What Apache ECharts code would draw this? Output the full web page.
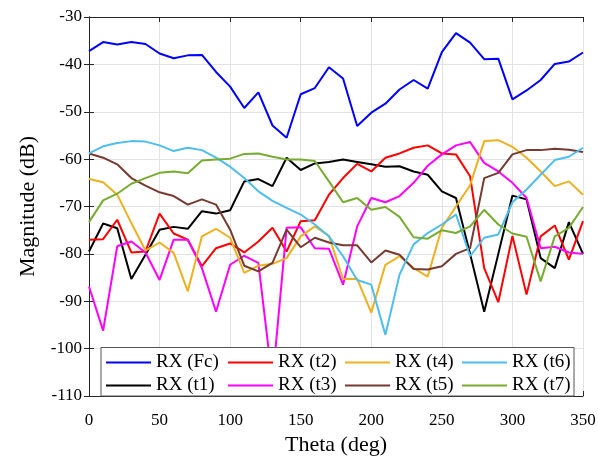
<!DOCTYPE html>
<html>
<head>
<meta charset="utf-8">
<script src="https://cdn.jsdelivr.net/npm/echarts@6/dist/echarts.min.js"></script>
<style>
  html, body { margin: 0; padding: 0; background: #fff; }
  #chart { width: 598px; height: 457px; }
</style>
</head>
<body>
<div id="chart"></div>
<script>
// angle samples (deg)
const theta = [0, 10, 20, 30, 40, 50, 60, 70, 80, 90, 100, 110, 120, 130, 140, 150, 160, 170,
  180, 190, 200, 210, 220, 230, 240, 250, 260, 270, 280, 290, 300, 310, 320, 330, 340, 350];

// magnitudes in dB
const rxFc = [-37.2, -35.3, -35.8, -35.3, -35.7, -37.7, -38.7, -38.1, -38.0, -41.6, -44.7, -49.2,
  -45.9, -52.9, -55.5, -46.3, -45.0, -40.6, -43.0, -53.0, -50.2, -48.3, -45.3, -43.3,
  -45.1, -37.4, -33.4, -35.4, -38.9, -38.8, -47.4, -45.5, -43.3, -39.9, -39.4, -37.5];
const rxT1 = [-79.5, -73.6, -74.6, -85.3, -80.2, -74.9, -74.3, -74.7, -71.0, -71.5, -70.8, -64.7,
  -64.2, -65.7, -59.7, -62.3, -60.9, -60.6, -60.1, -60.6, -61.1, -61.6, -61.5, -62.6,
  -63.3, -66.8, -68.2, -80.0, -92.2, -80.0, -67.7, -68.5, -80.9, -83.0, -73.3, -80.0];
const rxT2 = [-77.0, -76.9, -72.8, -79.7, -79.5, -71.5, -75.7, -77.0, -82.6, -78.8, -77.8, -79.7,
  -77.4, -74.5, -79.5, -73.1, -72.9, -67.5, -64.0, -61.0, -62.6, -59.7, -58.8, -57.6,
  -57.1, -58.8, -59.0, -63.6, -83.0, -90.2, -76.2, -88.6, -76.3, -74.0, -81.2, -73.1];
const rxT3 = [-86.9, -96.2, -78.4, -77.4, -79.7, -85.5, -77.0, -77.0, -83.0, -92.2, -82.3, -80.4,
  -81.9, -107.0, -74.5, -74.4, -78.8, -78.9, -86.5, -74.2, -68.2, -69.1, -67.8, -65.0,
  -61.4, -59.0, -57.1, -56.4, -60.8, -62.6, -65.0, -68.2, -78.8, -78.5, -79.7, -80.0];
const rxT4 = [-64.2, -64.9, -67.5, -73.5, -79.3, -77.6, -79.8, -87.9, -76.3, -74.7, -76.6, -84.0,
  -82.5, -82.1, -80.9, -76.3, -74.2, -76.2, -85.3, -85.3, -92.4, -82.3, -80.5, -83.0,
  -84.8, -74.5, -70.0, -65.5, -56.2, -56.0, -57.4, -59.7, -62.6, -65.7, -64.7, -67.5];
const rxT5 = [-58.8, -59.7, -61.1, -64.0, -65.6, -67.0, -67.8, -69.6, -68.5, -69.6, -74.9, -82.5,
  -83.7, -81.9, -74.9, -78.6, -76.6, -77.6, -78.2, -78.2, -81.8, -79.3, -80.2, -83.2,
  -83.3, -82.6, -80.0, -78.8, -64.0, -62.9, -59.0, -58.1, -58.1, -57.8, -58.0, -58.5];
const rxT6 = [-58.8, -57.3, -56.6, -56.2, -56.3, -57.1, -58.3, -57.6, -58.1, -59.7, -61.6, -64.0,
  -66.8, -68.8, -70.3, -71.7, -73.8, -76.3, -80.5, -85.5, -86.5, -97.1, -84.4, -78.0,
  -75.6, -73.8, -71.7, -80.5, -76.6, -75.9, -69.1, -66.4, -63.3, -60.2, -59.5, -57.6];
const rxT7 = [-73.3, -68.7, -67.3, -65.2, -64.0, -62.9, -62.6, -63.0, -60.3, -60.1, -59.9, -58.9,
  -58.8, -59.5, -60.1, -60.1, -60.4, -64.7, -69.1, -68.2, -70.7, -70.1, -72.2, -76.5,
  -76.8, -75.0, -75.6, -74.2, -70.7, -73.8, -75.7, -76.4, -85.8, -76.3, -74.5, -70.1];

const names = ['RX (Fc)', 'RX (t1)', 'RX (t2)', 'RX (t3)', 'RX (t4)', 'RX (t5)', 'RX (t6)', 'RX (t7)'];
const values = [rxFc, rxT1, rxT2, rxT3, rxT4, rxT5, rxT6, rxT7];
const colors = ['#0000ff', '#000000', '#ff0000', '#ff00ff', '#edb120', '#773a30', '#4dbeee', '#77ac30'];

const font = 'Liberation Serif';
const axisColor = '#262626';

const series = names.map((n, i) => ({
  name: n,
  type: 'line',
  symbol: 'none',
  data: theta.map((t, j) => [t, values[i][j]]),
  lineStyle: { width: 2, color: colors[i] },
  itemStyle: { color: colors[i] },
}));

// legend laid out as 4 columns of 2 rows
const legendCols = [[0, 1], [2, 3], [4, 5], [6, 7]];
const legendLeft = [106, 228, 345, 462];
const legends = legendCols.map((col, k) => ({
  orient: 'vertical',
  left: legendLeft[k],
  top: 353,
  padding: 0,
  itemGap: 4,
  itemWidth: 45,
  itemHeight: 2,
  icon: 'rect',
  selectedMode: false,
  z: 10,
  data: col.map((i) => names[i]),
  textStyle: { fontFamily: font, fontSize: 19, lineHeight: 19, color: '#000' },
}));

const chart = echarts.init(document.getElementById('chart'));
chart.setOption({
  animation: false,
  backgroundColor: '#fff',
  grid: { left: 89, right: 15, top: 17, bottom: 61, outerBoundsMode: 'none' },
  legend: legends,
  graphic: [{
    type: 'rect',
    z: 8,
    shape: { x: 101, y: 347.5, width: 473, height: 48.5 },
    style: { fill: '#fff', stroke: '#555', lineWidth: 1 },
  }],
  xAxis: [{
    type: 'value',
    min: 0, max: 350, interval: 50,
    name: 'Theta (deg)',
    nameLocation: 'middle',
    nameGap: 38,
    nameTextStyle: { fontFamily: font, fontSize: 22, color: '#000' },
    axisLine: { show: true, lineStyle: { color: axisColor, width: 1 } },
    axisTick: { show: true, inside: true, length: 5, lineStyle: { color: axisColor } },
    axisLabel: { fontFamily: font, fontSize: 17, color: '#000', margin: 16 },
    splitLine: { show: true, lineStyle: { color: '#e3e3e3', width: 1 } },
  }, {
    type: 'value',
    position: 'top',
    min: 0, max: 350, interval: 50,
    axisLine: { show: true, lineStyle: { color: axisColor, width: 1 } },
    axisTick: { show: true, inside: true, length: 5, lineStyle: { color: axisColor } },
    axisLabel: { show: false },
    splitLine: { show: false },
  }],
  yAxis: [{
    type: 'value',
    min: -110, max: -30, interval: 10,
    name: 'Magnitude (dB)',
    nameLocation: 'middle',
    nameGap: 50,
    nameTextStyle: { fontFamily: font, fontSize: 22, color: '#000' },
    axisLine: { show: true, lineStyle: { color: axisColor, width: 1 } },
    axisTick: { show: true, inside: true, length: 5, lineStyle: { color: axisColor } },
    axisLabel: { fontFamily: font, fontSize: 17, color: '#000', margin: 7 },
    splitLine: { show: true, lineStyle: { color: '#e3e3e3', width: 1 } },
  }, {
    type: 'value',
    position: 'right',
    min: -110, max: -30, interval: 10,
    axisLine: { show: true, lineStyle: { color: axisColor, width: 1 } },
    axisTick: { show: true, inside: true, length: 5, lineStyle: { color: axisColor } },
    axisLabel: { show: false },
    splitLine: { show: false },
  }],
  series: series,
});
</script>
</body>
</html>
